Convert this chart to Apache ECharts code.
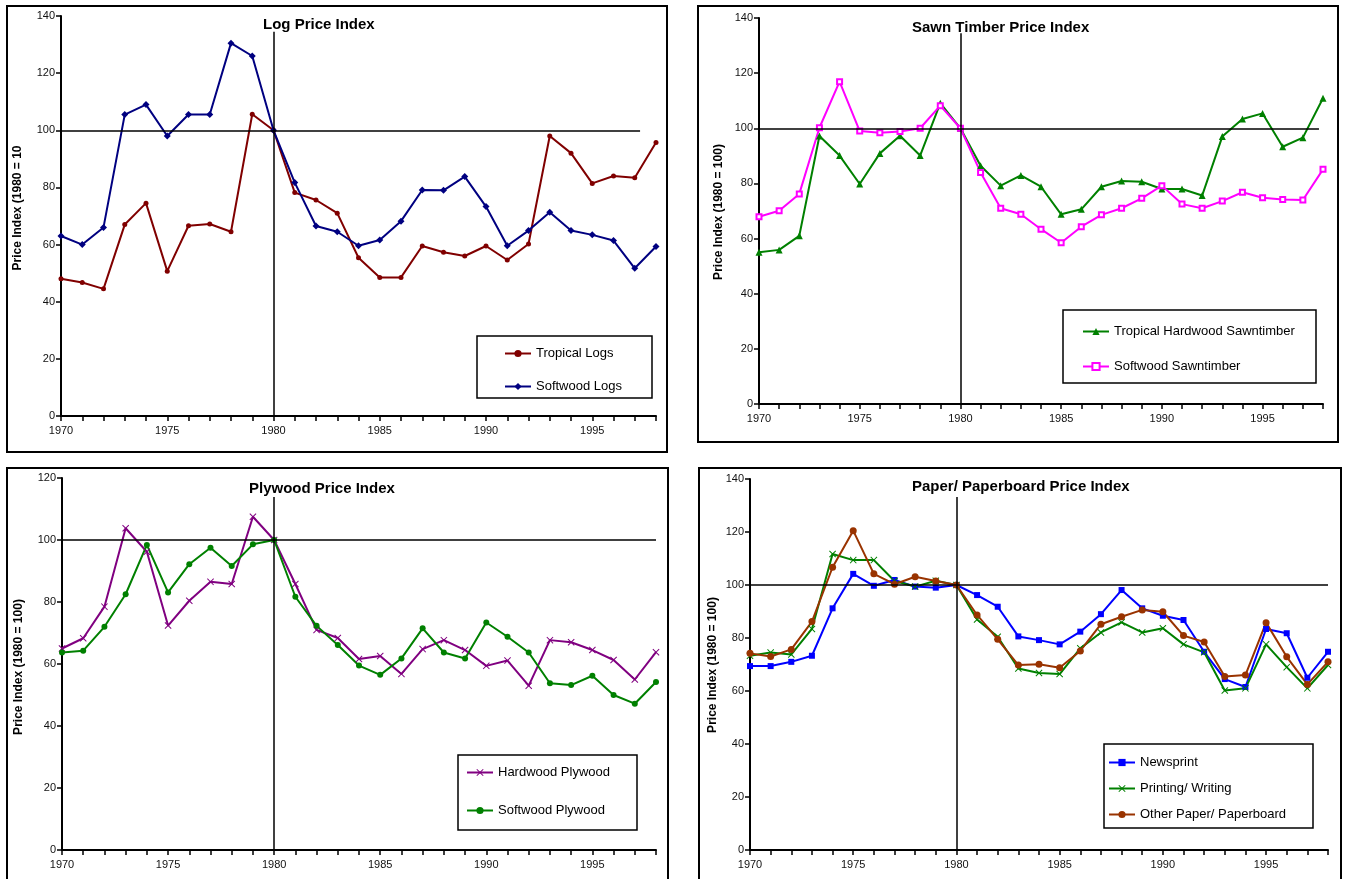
<!DOCTYPE html>
<html>
<head>
<meta charset="utf-8">
<title>Forest Product Price Indices</title>
<script src="https://cdn.jsdelivr.net/npm/echarts@6/dist/echarts.min.js"></script>
<style>
  html, body { margin: 0; padding: 0; background: #fff; }
  #chart { width: 1346px; height: 879px; }
</style>
</head>
<body>
<div id="chart"></div>
<script>
// Years shared by all four panels
const years = [1970, 1971, 1972, 1973, 1974, 1975, 1976, 1977, 1978, 1979,
               1980, 1981, 1982, 1983, 1984, 1985, 1986, 1987, 1988, 1989,
               1990, 1991, 1992, 1993, 1994, 1995, 1996, 1997, 1998];

// Log prices (1980 = 100)
const tropicalLogs = [48, 46.7, 44.5, 67, 74.5, 50.7, 66.6, 67.2, 64.5, 105.6,
                      100, 78.2, 75.6, 71, 55.4, 48.5, 48.5, 59.5, 57.3, 56,
                      59.5, 54.6, 60.2, 98, 92, 81.4, 84, 83.4, 95.7];
const softwoodLogs = [63, 60, 66, 105.5, 109, 98, 105.5, 105.5, 130.5, 126,
                      100, 81.7, 66.5, 64.5, 59.6, 61.6, 68.2, 79.1, 79, 83.8,
                      73.3, 59.6, 64.9, 71.3, 64.9, 63.4, 61.4, 51.7, 59.3];

// Sawn timber prices
const tropicalSawn = [55, 55.9, 61, 97.2, 90.1, 79.8, 90.9, 97.3, 90.1, 109.1,
                      100, 86.4, 79.2, 82.9, 78.8, 68.8, 70.6, 78.8, 80.9, 80.6,
                      78, 78, 75.6, 97, 103.4, 105.4, 93.3, 96.6, 110.9];
const softwoodSawn = [67.9, 70.1, 76.2, 100.2, 116.9, 99, 98.4, 98.8, 100, 108.2,
                      100, 84, 71, 68.8, 63.4, 58.5, 64.3, 68.6, 71, 74.6,
                      79.2, 72.5, 71, 73.6, 76.8, 74.8, 74.2, 74, 85.1];

// Plywood prices
const hardwoodPly = [65, 68.3, 78.5, 103.8, 96.2, 72.4, 80.4, 86.5, 85.8, 107.5,
                     100, 85.8, 71, 68.4, 61.6, 62.6, 56.8, 64.8, 67.7, 64.5,
                     59.4, 61.1, 53, 67.7, 67, 64.5, 61.3, 55, 63.8];
const softwoodPly = [63.7, 64.3, 72, 82.5, 98.4, 83.1, 92.2, 97.5, 91.6, 98.6,
                     100, 81.7, 72.3, 66.1, 59.5, 56.5, 61.8, 71.5, 63.7, 61.8,
                     73.4, 68.8, 63.7, 53.8, 53.2, 56.2, 50, 47.2, 54.2];

// Paper and paperboard prices
const newsprint = [69.4, 69.4, 71, 73.3, 91.2, 104.2, 99.7, 101.9, 99.4, 99,
                   100, 96.2, 91.8, 80.6, 79.2, 77.6, 82.4, 89, 98.1, 91.2,
                   88.4, 86.8, 74.8, 64.5, 61.5, 83.4, 81.8, 65, 74.8];
const printingWriting = [73.3, 74.5, 73.8, 83.4, 111.7, 109.4, 109.4, 101.5, 99.4, 101.6,
                         100, 87, 80.5, 68.5, 66.8, 66.4, 76.1, 82.1, 85.9, 82.1,
                         83.7, 77.6, 74.6, 60.2, 61, 77.6, 69, 61, 69.8];
const otherPaper = [74.2, 73, 75.7, 86.2, 106.7, 120.5, 104.2, 100.3, 103.1, 101.5,
                    100, 88.7, 79.5, 69.8, 70.1, 68.8, 75.1, 85.2, 88, 90.6,
                    89.9, 80.9, 78.5, 65.5, 66, 85.8, 72.9, 62.5, 71];

const pair = arr => years.map((y, i) => [y, arr[i]]);

// Cross-shaped marker
const xPath = 'path://M0,1L1,0L5,4L9,0L10,1L6,5L10,9L9,10L5,6L1,10L0,9L4,5Z';

const FONT = 'Liberation Sans, Arial, sans-serif';

function xAxisFor(gi) {
  return {
    type: 'value', gridIndex: gi, min: 1970, max: 1998, interval: 1,
    axisLine: { lineStyle: { color: '#000', width: 2 } },
    axisTick: { show: true, length: 5, lineStyle: { color: '#000', width: 1.5 } },
    splitLine: { show: false },
    axisLabel: {
      color: '#111', fontSize: 11, fontFamily: FONT, margin: 9,
      formatter: v => (v % 5 === 0 ? String(v) : '')
    }
  };
}
function yAxisFor(gi, max) {
  return {
    type: 'value', gridIndex: gi, min: 0, max: max, interval: 20,
    axisLine: { show: true, lineStyle: { color: '#000', width: 2 } },
    axisTick: { show: true, length: 5, lineStyle: { color: '#000', width: 1.5 } },
    splitLine: { show: false },
    axisLabel: { color: '#111', fontSize: 11, fontFamily: FONT, margin: 6 }
  };
}

// Base-year guides: the 100 level and the 1980 divider
function refLines(hEnd, vTop) {
  return {
    silent: true, symbol: 'none', animation: false,
    label: { show: false },
    lineStyle: { color: '#000', width: 1.5, type: 'solid' },
    data: [
      [{ coord: [1970, 100] }, { coord: [hEnd, 100] }],
      [{ coord: [1980, 0] }, { coord: [1980, vTop] }]
    ]
  };
}

function lineSeries(name, arr, gi, color, symbol, size, extra) {
  return Object.assign({
    name: name, type: 'line', xAxisIndex: gi, yAxisIndex: gi,
    data: pair(arr), symbol: symbol, symbolSize: size,
    lineStyle: { color: color, width: 2 },
    itemStyle: { color: color },
    animation: false
  }, extra || {});
}

function titleAt(text, left, top) {
  return {
    text: text, left: left, top: top, padding: 0,
    textStyle: { fontFamily: FONT, fontSize: 15, fontWeight: 'bold', color: '#000' }
  };
}

function legendAt(names, left, top, gap) {
  return {
    data: names, orient: 'vertical', left: left, top: top, padding: 0,
    itemGap: gap, itemWidth: 26, itemHeight: 9,
    textStyle: { fontFamily: FONT, fontSize: 13, color: '#000' },
    selectedMode: false
  };
}

function boxRect(x, y, w, h, lw) {
  return { type: 'rect', shape: { x: x, y: y, width: w, height: h },
           style: { fill: 'none', stroke: '#000', lineWidth: lw }, silent: true, z: 1 };
}

function yName(text, x, y) {
  return {
    type: 'text', x: x, y: y, rotation: Math.PI / 2, silent: true,
    style: { text: text, fontFamily: FONT, fontSize: 12, fontWeight: 'bold', fill: '#000',
             textAlign: 'center', textVerticalAlign: 'middle' }
  };
}

const chart = echarts.init(document.getElementById('chart'), null, { renderer: 'canvas' });

chart.setOption({
  backgroundColor: '#fff',
  animation: false,
  title: [
    titleAt('Log Price Index', 263, 17),
    titleAt('Sawn Timber Price Index', 912, 20),
    titleAt('Plywood Price Index', 249, 481),
    titleAt('Paper/ Paperboard Price Index', 912, 479)
  ],
  grid: [
    { left: 61, top: 16, width: 595, height: 400 },
    { left: 759, top: 18, width: 564, height: 386 },
    { left: 62, top: 478, width: 594, height: 372 },
    { left: 750, top: 479, width: 578, height: 371 }
  ],
  xAxis: [xAxisFor(0), xAxisFor(1), xAxisFor(2), xAxisFor(3)],
  yAxis: [yAxisFor(0, 140), yAxisFor(1, 140), yAxisFor(2, 120), yAxisFor(3, 140)],
  legend: [
    legendAt(['Tropical Logs', 'Softwood Logs'], 504, 347, 20),
    legendAt(['Tropical Hardwood Sawntimber', 'Softwood Sawntimber'], 1082, 325, 22),
    legendAt(['Hardwood Plywood', 'Softwood Plywood'], 466, 766, 25),
    legendAt(['Newsprint', 'Printing/ Writing', 'Other Paper/ Paperboard'], 1108, 756, 13)
  ],
  graphic: [
    boxRect(7, 6, 660, 446, 2),
    boxRect(698, 6, 640, 436, 2),
    boxRect(7, 468, 661, 430, 2),
    boxRect(699, 468, 642, 430, 2),
    boxRect(477, 336, 175, 62, 1.5),
    boxRect(1063, 310, 253, 73, 1.5),
    boxRect(458, 755, 179, 75, 1.5),
    boxRect(1104, 744, 209, 84, 1.5),
    yName('Price Index (1980 = 10', 18, 208),
    yName('Price Index (1980 = 100)', 719, 212),
    yName('Price Index (1980 = 100)', 19, 667),
    yName('Price Index (1980 = 100)', 713, 665)
  ],
  series: [
    lineSeries('Tropical Logs', tropicalLogs, 0, '#800000', 'circle', 5,
               { markLine: refLines(1997.25, 134.5) }),
    lineSeries('Softwood Logs', softwoodLogs, 0, '#000080', 'diamond', 7),

    lineSeries('Tropical Hardwood Sawntimber', tropicalSawn, 1, '#008000', 'triangle', 7,
               { markLine: refLines(1997.8, 134.5) }),
    lineSeries('Softwood Sawntimber', softwoodSawn, 1, '#ff00ff', 'emptyRect', 5,
               { itemStyle: { color: '#ff00ff', borderColor: '#ff00ff', borderWidth: 1.2 } }),

    lineSeries('Hardwood Plywood', hardwoodPly, 2, '#800080', xPath, 7),
    lineSeries('Softwood Plywood', softwoodPly, 2, '#008000', 'circle', 6,
               { markLine: refLines(1998, 113.9) }),

    lineSeries('Newsprint', newsprint, 3, '#0000ff', 'rect', 6,
               { markLine: refLines(1998, 133.2) }),
    lineSeries('Printing/ Writing', printingWriting, 3, '#008000', xPath, 7),
    lineSeries('Other Paper/ Paperboard', otherPaper, 3, '#993300', 'circle', 7)
  ]
});
</script>
</body>
</html>
